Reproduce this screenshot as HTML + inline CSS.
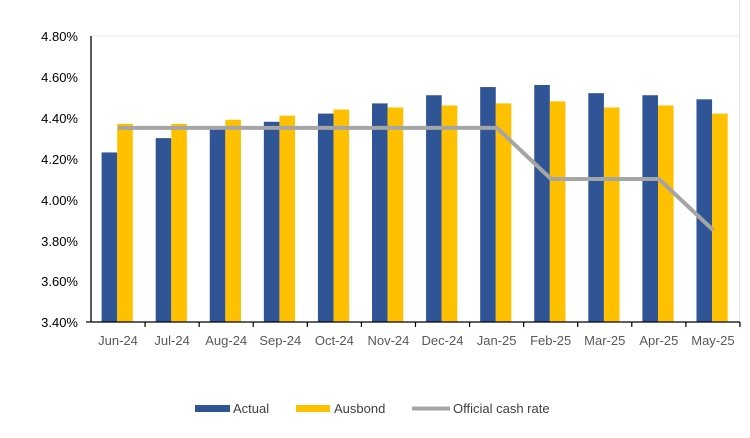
<!DOCTYPE html>
<html><head><meta charset="utf-8"><style>
body{margin:0;background:#fff;}
svg text{font-family:"Liberation Sans",sans-serif;}
</style></head><body>
<svg width="750" height="433" xmlns="http://www.w3.org/2000/svg">
<line x1="91" y1="36" x2="739" y2="36" stroke="#e3e8ee" stroke-width="1"/>
<line x1="739.5" y1="0" x2="739.5" y2="322" stroke="#e3e8ee" stroke-width="1"/>
<g id="bars"></g>
<polyline fill="none" stroke="#A5A5A5" stroke-width="4" points="118,127.9 172,127.9 226,127.9 280,127.9 334,127.9 388,127.9 442,127.9 497,127.9 551,179 605,179 659,179 713,230"/>
<line x1="91" y1="36" x2="91" y2="322" stroke="#000" stroke-width="1.3"/>
<line x1="91" y1="322" x2="740" y2="322" stroke="#000" stroke-width="1.3"/>
<g id="ticks" stroke="#000" stroke-width="1.2"></g>
<g font-size="13" fill="#000" text-anchor="end">
<text x="78" y="41">4.80%</text><text x="78" y="82">4.60%</text><text x="78" y="123">4.40%</text><text x="78" y="164">4.20%</text><text x="78" y="205">4.00%</text><text x="78" y="246">3.80%</text><text x="78" y="286">3.60%</text><text x="78" y="327">3.40%</text>
</g>
<g id="xl" font-size="13" fill="#595959" text-anchor="middle"></g>
<rect x="195" y="405" width="35" height="7" fill="#2F5597"/>
<text x="233" y="413" font-size="13" fill="#404040">Actual</text>
<rect x="296" y="405" width="34" height="7" fill="#FFC000"/>
<text x="334" y="413" font-size="13" fill="#404040">Ausbond</text>
<line x1="412" y1="408.5" x2="450" y2="408.5" stroke="#A5A5A5" stroke-width="4"/>
<text x="453" y="413" font-size="13" fill="#404040">Official cash rate</text>
</svg>
<script>
var a=[4.23,4.30,4.35,4.38,4.42,4.47,4.51,4.55,4.56,4.52,4.51,4.49];
var b=[4.37,4.37,4.39,4.41,4.44,4.45,4.46,4.47,4.48,4.45,4.46,4.42];
var L=["Jun-24","Jul-24","Aug-24","Sep-24","Oct-24","Nov-24","Dec-24","Jan-25","Feb-25","Mar-25","Apr-25","May-25"];
var ns="http://www.w3.org/2000/svg",w=54.08;
function y(v){return 322-(v-3.4)*204.3;}
function el(t,at,p){var e=document.createElementNS(ns,t);for(var k in at)e.setAttribute(k,at[k]);document.getElementById(p).appendChild(e);return e;}
for(var i=0;i<12;i++){var x0=91+i*w;
el("rect",{x:x0+10.6,y:y(a[i]),width:15.6,height:322-y(a[i]),fill:"#2F5597"},"bars");
el("rect",{x:x0+26.2,y:y(b[i]),width:15.6,height:322-y(b[i]),fill:"#FFC000"},"bars");
el("line",{x1:x0+w,y1:322,x2:x0+w,y2:327},"ticks");
var t=el("text",{x:x0+w/2,y:345},"xl");t.textContent=L[i];}
el("line",{x1:91,y1:322,x2:86,y2:322},"ticks");
</script>
</body></html>
